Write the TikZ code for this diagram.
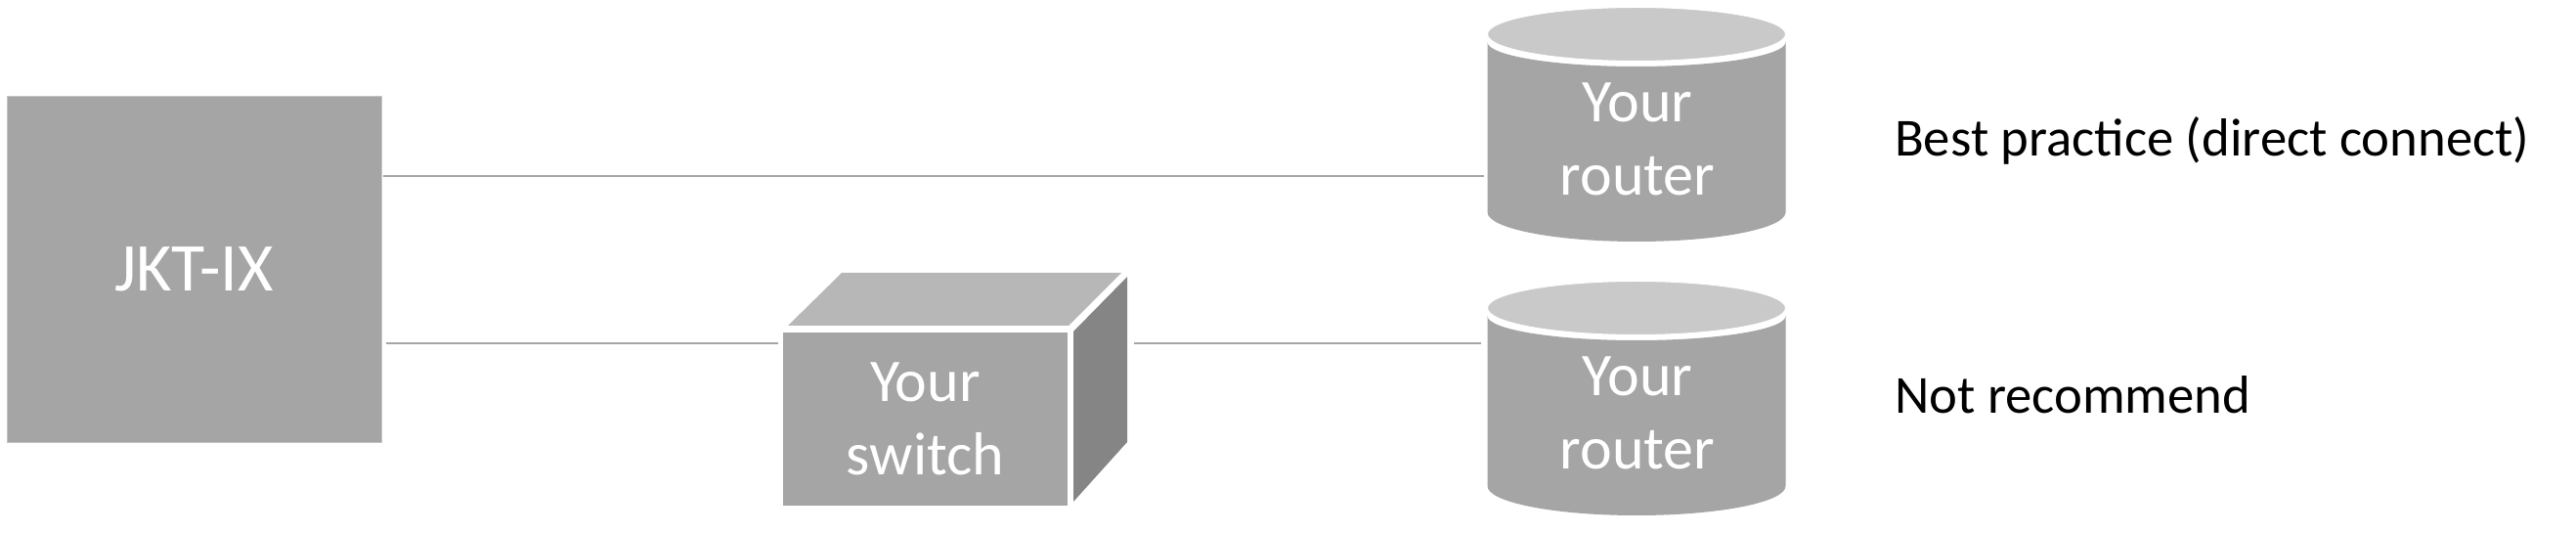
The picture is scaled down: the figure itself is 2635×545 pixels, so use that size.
\documentclass[tikz,border=0pt]{standalone}
\usepackage{fontspec}
\setmainfont{Carlito}
\usepackage{tikz}
\usetikzlibrary{calc, positioning}

\definecolor{boxgray}{HTML}{A5A5A5}
\definecolor{edgegray}{HTML}{C4C4C4}
\definecolor{linegray}{HTML}{A6A6A6}
\definecolor{cantop}{HTML}{C9C9C9}
\definecolor{cubetop}{HTML}{B7B7B7}
\definecolor{cubeside}{HTML}{858585}

\begin{document}
\begin{tikzpicture}[x=1pt, y=1pt,
    every node/.style={inner sep=0pt},
    ixbox/.style={fill=boxgray, draw=edgegray, line width=0.6pt, minimum width=383pt, minimum height=354pt,
        text=white, font=\fontsize{70}{84}\selectfont},
    devtext/.style={align=center, text=white, font=\fontsize{62}{75}\selectfont},
    notetext/.style={anchor=base west, font=\fontsize{54.7}{66}\selectfont},
    link/.style={draw=linegray, line width=2pt}]
    \useasboundingbox (0,0) rectangle (2635,545);

    % 左边的交换中心
    \node[ixbox] (ix) at (198.5,269.4) {JKT-IX};

    % 中间的交换机 (正面、顶面、侧面)
    \node[fill=boxgray, minimum width=291pt, minimum height=177pt, devtext] (sw) at (946.5,116.5) {Your\\switch};
    \fill[cubetop] (806,212) -- (861,266) -- (1147,266) -- (1093,212) -- cycle;
    \fill[cubeside] (1098,206) -- (1153,262) -- (1153,93) -- (1098,32) -- cycle;

    % 右边的两个路由器 (圆柱)
    \foreach \dy/\n in {0/1, -280/2} {
        \begin{scope}[yshift=\dy]
            \fill[boxgray] (1521.5,502) -- (1521.5,328)
                arc[start angle=180, end angle=360, x radius=152.5pt, y radius=30pt] -- (1826.5,502)
                arc[start angle=0, end angle=-180, x radius=152.5pt, y radius=25pt] -- cycle;
            \filldraw[fill=cantop, draw=white, line width=1pt] (1674,510) ellipse [x radius=152.5pt, y radius=27.5pt];
            \node[devtext] (r\n) at (1675,402.5) {Your\\router};
        \end{scope}
    }

    % 连线的端点
    \coordinate (r1in) at (1518,365);
    \coordinate (swin) at (796,194);
    \coordinate (swout) at (1160,194);
    \coordinate (r2in) at (1515,194);

    % 连线
    \draw[link, shorten <=2pt] (ix.east |- r1in) -- (r1in);
    \draw[link, shorten <=5pt] (ix.east |- swin) -- (swin);
    \draw[link] (swout) -- (r2in);

    % 右侧说明
    \node[notetext] (best) at (1938,385) {Best practice (direct connect)};
    \node[notetext] (notrec) at (1938,122) {Not recommend};
\end{tikzpicture}
\end{document}
